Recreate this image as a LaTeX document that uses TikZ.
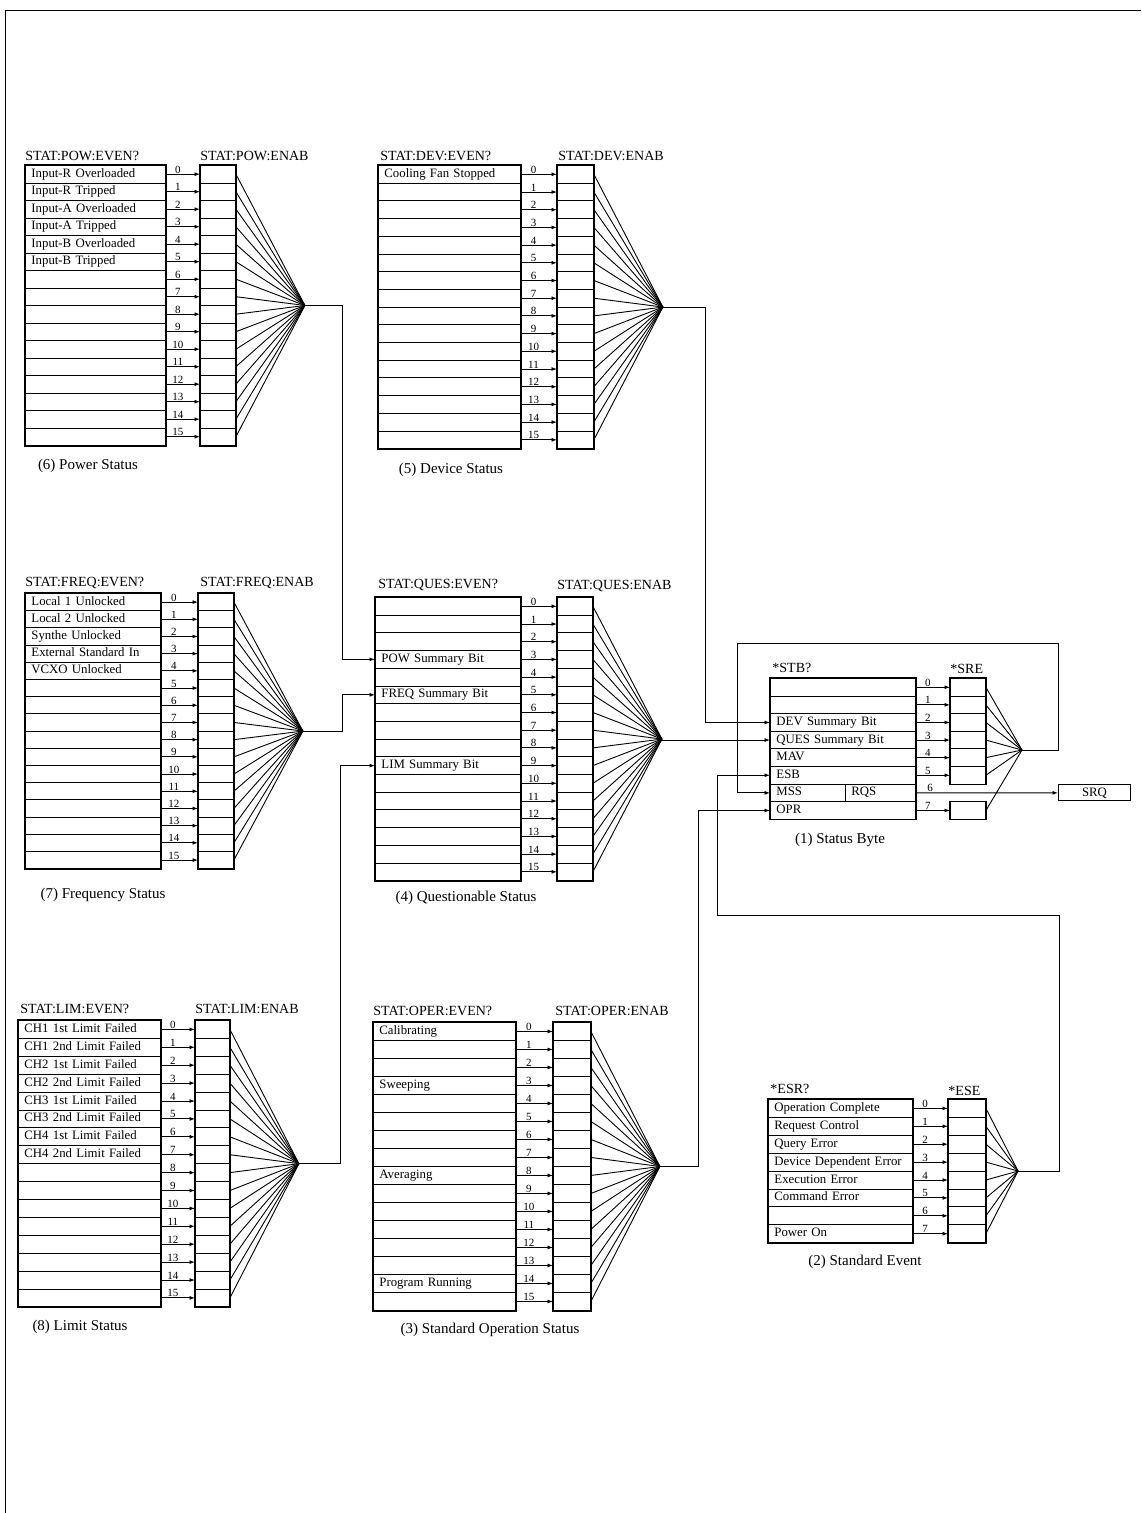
\documentclass[tikz,border=0pt]{standalone}
\usepackage{fontspec}
\setmainfont{Liberation Serif}
\usetikzlibrary{arrows.meta,calc}

\newcommand\rowfont{\fontsize{12.8}{14}\selectfont}
\newcommand\titlefont{\fontsize{14}{16}\selectfont}
\newcommand\capfont{\fontsize{15}{17}\selectfont}
\newcommand\bitfont{\fontsize{11}{12}\selectfont}

\tikzset{
  evrow/.style={draw, anchor=north west, inner xsep=6pt, inner ysep=0pt,
    align=left, font=\rowfont, text height=8.8pt, text depth=2.8pt},
  enrow/.style={draw, anchor=north west, inner sep=0pt, font=\rowfont},
  outline/.style={line width=1.3pt},
  bit/.style={-{Latex[length=5.5pt,width=4pt]}},
  bitnum/.style={above, font=\bitfont, inner sep=.5pt, pos=.35},
  link/.style={-{Latex[length=5.5pt,width=4pt]}},
  regtitle/.style={anchor=base west, font=\titlefont, inner sep=0pt},
  caption/.style={font=\capfont, inner sep=0pt},
}

% event register + enable register, bit arrows and fan-in point
% #1 name, #2 event x, #3 top y, #4 row height, #5 event width,
% #6 enable x, #7 enable width, #8 last bit, #9 row texts
\newcommand{\statreg}[9]{%
  \pgfmathsetmacro\txtw{#5-12}
  \pgfmathsetmacro\fanw{4.6*#8}
  \foreach \lbl [count=\k from 0] in {#9} {
    \node[evrow, text width=\txtw pt, minimum height=#4pt] (#1-e\k) at (#2,{#3+\k*#4}) {\lbl};
  }
  \foreach \k in {0,...,#8} {
    \node[enrow, minimum width=#7pt, minimum height=#4pt] (#1-n\k) at (#6,{#3+\k*#4}) {};
    \draw[bit] (#1-e\k.east) -- node[bitnum] {\k} (#1-n\k.west);
  }
  \draw[outline] (#1-e0.north west) rectangle (#1-e#8.south east);
  \draw[outline] (#1-n0.north west) rectangle (#1-n#8.south east);
  \coordinate (#1-c) at ($(#1-n0.north east)!.5!(#1-n#8.south east)+(\fanw,0)$);
  \foreach \k in {0,...,#8} \draw (#1-n\k.east) -- (#1-c);
}

\begin{document}
\begin{tikzpicture}[x=1pt, y=-1pt, line width=.9pt]
  \useasboundingbox (0,0) rectangle (1141,1513);
  \draw[line width=1pt] (5,1513) -- (5,10) -- (1141,10);

  % (6) power status
  \statreg{pow}{25}{165}{17.5}{140}{200}{35}{15}{Input-R Overloaded,Input-R Tripped,Input-A Overloaded,Input-A Tripped,Input-B Overloaded,Input-B Tripped,{},{},{},{},{},{},{},{},{},{}}
  \node[regtitle] (pow-t1) at (25,160) {STAT:POW:EVEN?};
  \node[regtitle] (pow-t2) at (200,160) {STAT:POW:ENAB};
  \node[caption] (pow-cap) at (88,466) {(6) Power Status};

  % (5) device status
  \statreg{dev}{378}{165}{17.7}{142}{557}{36}{15}{Cooling Fan Stopped,{},{},{},{},{},{},{},{},{},{},{},{},{},{},{}}
  \node[regtitle] (dev-t1) at (380,160) {STAT:DEV:EVEN?};
  \node[regtitle] (dev-t2) at (558,160) {STAT:DEV:ENAB};
  \node[caption] (dev-cap) at (451,470) {(5) Device Status};

  % (7) frequency status
  \statreg{freq}{25}{593}{17.2}{135}{198}{35}{15}{Local 1 Unlocked,Local 2 Unlocked,Synthe Unlocked,External Standard In,VCXO Unlocked,{},{},{},{},{},{},{},{},{},{},{}}
  \node[regtitle] (freq-t1) at (25,586) {STAT:FREQ:EVEN?};
  \node[regtitle] (freq-t2) at (200,586) {STAT:FREQ:ENAB};
  \node[caption] (freq-cap) at (103,895) {(7) Frequency Status};

  % (4) questionable status
  \statreg{ques}{375}{597}{17.7}{145}{557}{35}{15}{{},{},{},POW Summary Bit,{},FREQ Summary Bit,{},{},{},LIM Summary Bit,{},{},{},{},{},{}}
  \node[regtitle] (ques-t1) at (378,588) {STAT:QUES:EVEN?};
  \node[regtitle] (ques-t2) at (557,589) {STAT:QUES:ENAB};
  \node[caption] (ques-cap) at (466,898) {(4) Questionable Status};

  % (8) limit status
  \statreg{lim}{18}{1020}{17.9}{142}{195}{34}{15}{CH1 1st Limit Failed,CH1 2nd Limit Failed,CH2 1st Limit Failed,CH2 2nd Limit Failed,CH3 1st Limit Failed,CH3 2nd Limit Failed,CH4 1st Limit Failed,CH4 2nd Limit Failed,{},{},{},{},{},{},{},{}}
  \node[regtitle] (lim-t1) at (20,1013) {STAT:LIM:EVEN?};
  \node[regtitle] (lim-t2) at (195,1013) {STAT:LIM:ENAB};
  \node[caption] (lim-cap) at (80,1327) {(8) Limit Status};

  % (3) standard operation status
  \statreg{oper}{373}{1022}{18}{142}{553}{37}{15}{Calibrating,{},{},Sweeping,{},{},{},{},Averaging,{},{},{},{},{},Program Running,{}}
  \node[regtitle] (oper-t1) at (373,1015) {STAT:OPER:EVEN?};
  \node[regtitle] (oper-t2) at (555,1015) {STAT:OPER:ENAB};
  \node[caption] (oper-cap) at (490,1330) {(3) Standard Operation Status};

  % (2) standard event
  \statreg{esr}{768}{1099}{17.9}{144}{948}{37}{7}{Operation Complete,Request Control,Query Error,Device Dependent Error,Execution Error,Command Error,{},Power On}
  \node[regtitle] (esr-t1) at (770,1093) {*ESR?};
  \node[regtitle] (esr-t2) at (948,1095) {*ESE};
  \node[caption] (esr-cap) at (865,1262) {(2) Standard Event};

  % (1) status byte: bit 6 has no enable cell
  \foreach \lbl [count=\k from 0] in {{},{},DEV Summary Bit,QUES Summary Bit,MAV,ESB,MSS,OPR} {
    \node[evrow, text width=133pt, minimum height=17.6pt] (stb-e\k) at (770,{678+\k*17.6}) {\lbl};
  }
  \node[evrow, text width=58pt, minimum height=17.6pt, anchor=north east] (rqs) at (stb-e6.north east) {RQS};
  \coordinate (sre-c) at (1022,750);
  \foreach \k in {0,1,2,3,4,5,7} {
    \node[enrow, minimum width=35pt, minimum height=17.6pt] (sre-n\k) at (950,{678+\k*17.6}) {};
    \draw[bit] (stb-e\k.east) -- node[bitnum] {\k} (sre-n\k.west);
    \draw (sre-n\k.east) -- (sre-c);
  }
  \draw[outline] (stb-e0.north west) rectangle (stb-e7.south east);
  \draw[outline] (sre-n0.north west) rectangle (sre-n5.south east);
  \draw[outline] (sre-n7.north west) rectangle (sre-n7.south east);
  \node[enrow, minimum width=72pt, minimum height=16pt] (srq) at (1058,784.4) {SRQ};
  \draw[bit] (stb-e6.east) -- node[bitnum, pos=.1] {6} (srq.west);
  \node[regtitle] (stb-t1) at (772,672) {*STB?};
  \node[regtitle] (stb-t2) at (950,673) {*SRE};
  \node[caption] (stb-cap) at (840,840) {(1) Status Byte};

  % summary lines
  \draw[link] (pow-c) -- ++(38,0) |- (ques-e3.west);
  \draw[link] (freq-c) -- ++(40,0) |- (ques-e5.west);
  \draw[link] (lim-c) -- ++(42,0) |- (ques-e9.west);
  \draw[link] (dev-c) -- ++(43,0) |- (stb-e2.west);
  \draw[link] (ques-c) |- (stb-e3.west);
  \draw[link] (oper-c) -- ++(39,0) |- (stb-e7.west);
  \draw[link] (esr-c) -- ++(41,0) |- (717,915) |- (stb-e5.west);
  \draw[link] (sre-c) -- ++(36,0) |- (737,643) |- (stb-e6.west);
\end{tikzpicture}
\end{document}
